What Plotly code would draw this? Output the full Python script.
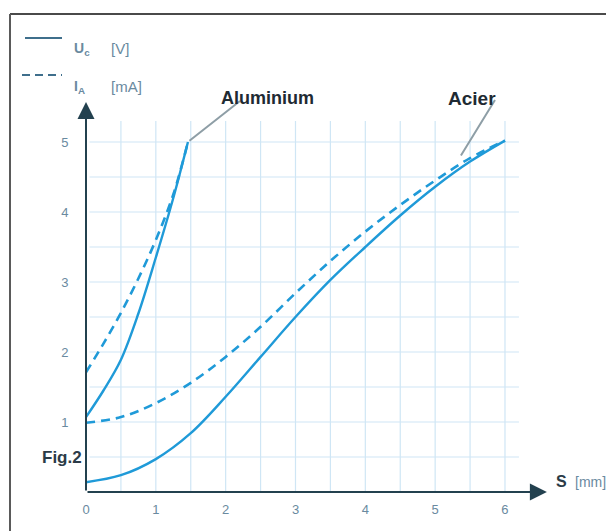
import numpy as np
import plotly.graph_objects as go

# ---- data ----
al_x = [0, 0.25, 0.5, 0.75, 1.0, 1.25, 1.46]
al_u = [1.07, 1.45, 1.89, 2.55, 3.35, 4.2, 5.0]
al_i = [1.71, 2.12, 2.56, 3.05, 3.6, 4.25, 5.0]

st_x = [0, 0.5, 1, 1.5, 2, 2.5, 3, 3.5, 4, 4.5, 5, 5.5, 6]
st_u = [0.14, 0.24, 0.47, 0.84, 1.36, 1.93, 2.5, 3.03, 3.5, 3.95, 4.36, 4.72, 5.02]
st_i = [0.99, 1.07, 1.27, 1.56, 1.93, 2.36, 2.84, 3.3, 3.72, 4.1, 4.45, 4.77, 5.02]

x_ticks = [0, 1, 2, 3, 4, 5, 6]
y_ticks = [1, 2, 3, 4, 5]

BLUE = "#1f9ad8"
GRID = "#cfe6f5"
TXT = "#6a8aa0"
DARK = "#1e2a33"
AXC = "#23414f"
FONT = "Liberation Sans"

OFF = 8  # page body margin
W, H = 614, 531
PL, PT, PW, PH = 86, 90, 474, 402  # plot area in screen pixels
ML, MT = PL - OFF, PT - OFF
MR, MB = W - ML - PW, H - MT - PH
XMAX = PW / 69.83
YMAX = PH / 70.0


def px(xp):
    return (xp - PL) / PW


def py(yp):
    return (PT + PH - yp) / PH


fig = go.Figure()

# grid
for gx in np.arange(0.5, 6.01, 0.5):
    fig.add_shape(type="line", x0=gx, x1=gx, y0=0, y1=5.3, xref="x", yref="y",
                  line=dict(color=GRID, width=1.2), layer="below")
for gy in np.arange(0.5, 5.01, 0.5):
    fig.add_shape(type="line", x0=0.05, x1=6.2, y0=gy, y1=gy, xref="x", yref="y",
                  line=dict(color=GRID, width=1.2), layer="below")

common = dict(mode="lines", line_shape="spline", showlegend=False, hoverinfo="skip")
fig.add_trace(go.Scatter(x=al_x, y=al_u, line=dict(color=BLUE, width=2.4), **common))
fig.add_trace(go.Scatter(x=al_x, y=al_i, line=dict(color=BLUE, width=2.6, dash="9px,6px"), **common))
fig.add_trace(go.Scatter(x=st_x, y=st_u, line=dict(color=BLUE, width=2.4), **common))
fig.add_trace(go.Scatter(x=st_x, y=st_i, line=dict(color=BLUE, width=2.6, dash="9px,6px"), **common))

ann = []
# axis arrows
ann.append(dict(x=6.6, y=0, ax=0, ay=0, xref="x", yref="y", axref="x", ayref="y",
                text="", showarrow=True, arrowhead=2, arrowsize=1.7, arrowwidth=2, arrowcolor=AXC))
ann.append(dict(x=0, y=5.57, ax=0, ay=0, xref="x", yref="y", axref="x", ayref="y",
                text="", showarrow=True, arrowhead=2, arrowsize=1.7, arrowwidth=2, arrowcolor=AXC))

# curve label leaders
ann.append(dict(x=2.205, y=5.586, ax=1.46, ay=5.0, xref="x", yref="y", axref="x", ayref="y",
                text="", showarrow=True, arrowhead=0, arrowwidth=2, arrowcolor="#8e9ea6"))
ann.append(dict(x=5.857, y=5.6, ax=5.356, ay=4.786, xref="x", yref="y", axref="x", ayref="y",
                text="", showarrow=True, arrowhead=0, arrowwidth=2, arrowcolor="#8e9ea6"))
ann.append(dict(x=px(267), y=py(86), xref="paper", yref="paper", text="<b>Aluminium</b>",
                showarrow=False, font=dict(size=18, color=DARK, family=FONT)))
ann.append(dict(x=px(498), y=py(86), xref="paper", yref="paper", text="<b>Acier</b>",
                showarrow=False, font=dict(size=19, color=DARK, family=FONT)))

# legend texts
for row_y, sym, unit in [(38, "<b>U<sub>c</sub></b>", "[V]"), (76, "<b>I<sub>A</sub></b>", "[mA]")]:
    ann.append(dict(x=px(72), y=py(row_y), xref="paper", yref="paper", xanchor="left",
                    text=sym, showarrow=False, font=dict(size=14, color=TXT, family=FONT)))
    ann.append(dict(x=px(109), y=py(row_y), xref="paper", yref="paper", xanchor="left",
                    text=unit, showarrow=False, font=dict(size=15, color=TXT, family=FONT)))

# Fig.2 and S [mm]
ann.append(dict(x=px(40), y=py(469), xref="paper", yref="paper", text="<b>Fig.2</b>",
                showarrow=False, font=dict(size=17, color="#2b3b47", family=FONT)))
ann.append(dict(x=px(554), y=py(492), xref="paper", yref="paper", xanchor="left", text="<b>S</b>",
                showarrow=False, font=dict(size=16, color="#2b3b47", family=FONT)))
ann.append(dict(x=px(573), y=py(492), xref="paper", yref="paper", xanchor="left", text="[mm]",
                showarrow=False, font=dict(size=14, color=TXT, family=FONT)))

shapes = [
    # frame
    dict(type="line", xref="paper", yref="paper", x0=px(10), x1=px(630), y0=py(14), y1=py(14),
         line=dict(color="#4a4a4a", width=2)),
    dict(type="line", xref="paper", yref="paper", x0=px(10), x1=px(10), y0=py(14), y1=py(545),
         line=dict(color="#5a5a5a", width=2)),
    # legend samples
    dict(type="line", xref="paper", yref="paper", x0=px(25), x1=px(62), y0=py(38), y1=py(38),
         line=dict(color="#3f6f8c", width=2)),
    dict(type="line", xref="paper", yref="paper", x0=px(22), x1=px(62), y0=py(75), y1=py(75),
         line=dict(color="#3f6f8c", width=2, dash="8px,5px")),
]
for s in shapes:
    fig.add_shape(**s)

fig.update_layout(
    width=W, height=H,
    margin=dict(l=ML, r=MR, t=MT, b=MB),
    paper_bgcolor="white", plot_bgcolor="white",
    annotations=ann,
    xaxis=dict(range=[0, XMAX], tickvals=x_ticks, ticktext=[str(v) for v in x_ticks],
               showgrid=False, zeroline=False, showline=False,
               ticks="outside", ticklen=5, tickcolor="rgba(0,0,0,0)",
               tickfont=dict(size=13, color=TXT, family=FONT)),
    yaxis=dict(range=[0, YMAX], tickvals=y_ticks, ticktext=[str(v) for v in y_ticks],
               showgrid=False, zeroline=False, showline=False,
               ticks="outside", ticklen=14, tickcolor="rgba(0,0,0,0)",
               tickfont=dict(size=13, color=TXT, family=FONT)),
)

fig.write_html("out.html")
